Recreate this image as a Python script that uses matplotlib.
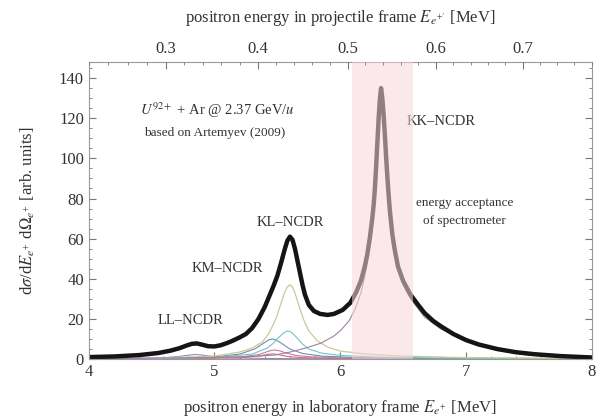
import numpy as np
import matplotlib
matplotlib.use("Agg")
import matplotlib.pyplot as plt

plt.rcParams['font.family'] = ['Liberation Serif', 'DejaVu Serif']
plt.rcParams['mathtext.fontset'] = 'stix'

# total NCDR spectrum (thick curve)
total_x = [4.00, 4.20, 4.40, 4.55, 4.65, 4.72, 4.78, 4.82, 4.86, 4.90, 4.95, 5.00,
           5.05, 5.10, 5.15, 5.20, 5.25, 5.30, 5.35, 5.40, 5.44, 5.47, 5.50, 5.53,
           5.56, 5.58, 5.60, 5.62, 5.64, 5.66, 5.68, 5.70, 5.72, 5.75, 5.79, 5.84,
           5.90, 5.95, 6.02, 6.08, 6.125, 6.165, 6.195, 6.215, 6.235, 6.255, 6.265,
           6.275, 6.285, 6.295, 6.305, 6.315, 6.325, 6.335, 6.345, 6.355, 6.365,
           6.375, 6.385, 6.395, 6.415, 6.435, 6.46, 6.50, 6.56, 6.62, 6.67, 6.74,
           6.80, 6.90, 7.00, 7.10, 7.25, 7.40, 7.55, 7.75, 8.00]
total_y = [1.0, 1.3, 2.0, 3.0, 4.2, 5.4, 6.8, 7.6, 7.8, 7.2, 6.4, 6.3,
           6.9, 8.0, 9.3, 10.8, 12.5, 15.5, 20, 26, 32, 36.5, 41.5, 48,
           55, 59, 61, 59.5, 55, 49, 43, 37, 32, 27, 24, 22.5,
           22, 22.5, 24.5, 28, 33, 39, 46, 52, 60, 70, 76,
           84, 95, 107, 119, 129, 135, 130, 122, 112, 101,
           91, 82, 74, 62, 54, 46, 39, 32, 27, 23, 19,
           16.4, 12.5, 9.5, 7.3, 5.0, 3.4, 2.4, 1.5, 0.8]

# individual contributions (thin curves)
kl_x = [4.6, 5.0, 5.2, 5.3, 5.38, 5.43, 5.47, 5.50, 5.53, 5.56, 5.58, 5.60, 5.62,
        5.64, 5.66, 5.68, 5.71, 5.75, 5.82, 5.90, 6.00, 6.20, 6.50, 7.00, 8.00]
kl_y = [0.6, 1.5, 3.5, 5.5, 8.5, 12.5, 17.5, 22, 28, 33.5, 36, 37, 36,
        33, 29, 25, 19.5, 14, 9, 6, 4, 2.5, 1.5, 0.7, 0.3]

km1_x = [4.6, 5.0, 5.3, 5.42, 5.47, 5.51, 5.55, 5.58, 5.61, 5.65, 5.70, 5.75,
         5.85, 6.0, 6.3, 6.8, 8.0]
km1_y = [0.3, 0.8, 2.5, 5.5, 8.0, 10.8, 13, 14, 13.5, 11, 7.5, 5,
         3, 1.8, 1.0, 0.5, 0.2]

km2_x = [4.6, 5.0, 5.2, 5.32, 5.38, 5.43, 5.46, 5.49, 5.53, 5.60, 5.70, 5.85,
         6.10, 6.6, 8.0]
km2_y = [0.3, 1.0, 2.5, 5.0, 7.5, 9.5, 10, 9.5, 8.0, 5.0, 2.8, 1.5,
         0.8, 0.4, 0.1]

km3_x = [4.6, 5.2, 5.35, 5.41, 5.45, 5.48, 5.52, 5.57, 5.65, 5.75, 6.0, 6.6, 8.0]
km3_y = [0.2, 1.0, 2.2, 3.5, 4.3, 4.5, 4.1, 3.0, 1.8, 1.2, 0.6, 0.3, 0.1]

km4_x = [4.6, 5.2, 5.35, 5.42, 5.46, 5.50, 5.58, 5.70, 6.0, 8.0]
km4_y = [0.1, 0.6, 1.5, 2.3, 2.6, 2.3, 1.3, 0.7, 0.3, 0.1]

ll_x = [4.0, 4.4, 4.6, 4.72, 4.80, 4.85, 4.90, 4.98, 5.10, 5.4, 6.0, 8.0]
ll_y = [0.2, 0.4, 0.7, 1.3, 2.0, 2.3, 2.0, 1.3, 0.7, 0.3, 0.1, 0.05]

kk_x = [4.0, 4.6, 5.0, 5.3, 5.48, 5.60, 5.72, 5.85, 5.95, 6.01, 6.07, 6.12, 6.165,
        6.195, 6.215, 6.235, 6.255, 6.275, 6.295, 6.315, 6.325, 6.335, 6.355,
        6.375, 6.395, 6.435, 6.50, 6.56, 6.67, 6.80, 7.00, 7.25, 7.50, 7.75, 8.00]
kk_y = [0.3, 0.5, 0.8, 1.3, 2.0, 3.5, 5.4, 8, 11.5, 14.7, 19, 25, 33,
        41, 48, 57, 67, 82, 104, 126, 133, 128, 110,
        89, 72, 52, 37, 30, 21, 15, 8.8, 4.3, 2.0, 1.1, 0.6]

acceptance = (6.09, 6.58)
proj_ticks = [0.3, 0.4, 0.5, 0.6, 0.7]

# lab frame kinetic energy for forward emission (U @ 2.37 GeV/u)
m_e = 0.511
gamma = 1 + 2370.0 / 931.494
beta = np.sqrt(1 - 1 / gamma**2)


def lab_from_proj(ek):
    e_tot = np.asarray(ek) + m_e
    p = np.sqrt(e_tot**2 - m_e**2)
    return gamma * (e_tot + beta * p) - m_e


txt = '#333333'
fig = plt.figure(figsize=(6, 4.19), dpi=100)
ax = fig.add_axes([0.148, 0.143, 0.838, 0.709])

ax.plot(ll_x, ll_y, color='#9a88b8', lw=0.8)
ax.plot(km4_x, km4_y, color='#d66a6a', lw=0.8)
ax.plot(km3_x, km3_y, color='#c47aac', lw=0.8)
ax.plot(km2_x, km2_y, color='#6f8db5', lw=0.8)
ax.plot(km1_x, km1_y, color='#72c4c4', lw=0.8)
ax.plot(kl_x, kl_y, color='#c9c996', lw=0.9)
ax.plot(kk_x, kk_y, color='#a27fa6', lw=0.8)
ax.plot(total_x, total_y, color='#151515', lw=3.2, solid_joinstyle='round',
        solid_capstyle='round')

ax.axvspan(acceptance[0], acceptance[1], color='#f7d6da', alpha=0.55, lw=0, zorder=5)

ax.set_xlim(4, 8)
ax.set_ylim(0, 148)
ax.set_xticks([4, 5, 6, 7, 8])
ax.set_xticks(np.arange(4, 8.01, 0.2), minor=True)
ax.set_yticks(np.arange(0, 141, 20))
ax.set_yticks(np.arange(0, 146, 5), minor=True)
ax.tick_params(which='both', direction='in', colors='#777777', labelcolor=txt,
               labelsize=12, right=True)
ax.tick_params(which='major', length=5)
ax.tick_params(which='minor', length=2.5)
for s in ax.spines.values():
    s.set_color('#999999')
    s.set_linewidth(0.8)

ax.set_xlabel(r'positron energy in laboratory frame $E_{e^{+}}$ [MeV]',
              fontsize=12, color=txt, labelpad=13)
ax.set_ylabel(r'd$\sigma$/d$E_{e^{+}}$ d$\Omega_{e^{+}}$ [arb. units]',
              fontsize=12, color=txt, labelpad=16)

top = ax.twiny()
top.set_xlim(4, 8)
top.set_xticks(lab_from_proj(proj_ticks))
top.set_xticklabels([f'{t:.1f}' for t in proj_ticks])
top.set_xticks(lab_from_proj(np.arange(0.22, 0.79, 0.02)), minor=True)
top.tick_params(which='both', direction='in', colors='#777777', labelcolor=txt,
                labelsize=12)
top.tick_params(which='major', length=5)
top.tick_params(which='minor', length=2.5)
for s in top.spines.values():
    s.set_visible(False)
top.set_xlabel(r"positron energy in projectile frame $E_{e^{+\prime}}$ [MeV]",
               fontsize=12, color=txt, labelpad=14)

ax.text(5.02, 124, r'$U^{92+}$ + Ar @ 2.37 GeV/$u$', ha='center', va='center',
        fontsize=10.5, color=txt)
ax.text(5.0, 112.5, 'based on Artemyev (2009)', ha='center', va='center',
        fontsize=9.5, color=txt)
ax.text(4.81, 19, 'LL\u2013NCDR', ha='center', va='center', fontsize=10.5, color=txt)
ax.text(5.1, 45, 'KM\u2013NCDR', ha='center', va='center', fontsize=10.5, color=txt)
ax.text(5.6, 68, 'KL\u2013NCDR', ha='center', va='center', fontsize=10.5, color=txt)
ax.text(6.8, 118.5, 'KK\u2013NCDR', ha='center', va='center', fontsize=10.5, color=txt)
ax.text(6.99, 78, 'energy acceptance', ha='center', va='center', fontsize=9.5, color=txt)
ax.text(6.99, 69, 'of spectrometer', ha='center', va='center', fontsize=9.5, color=txt)

fig.savefig('out.png', dpi=100)
